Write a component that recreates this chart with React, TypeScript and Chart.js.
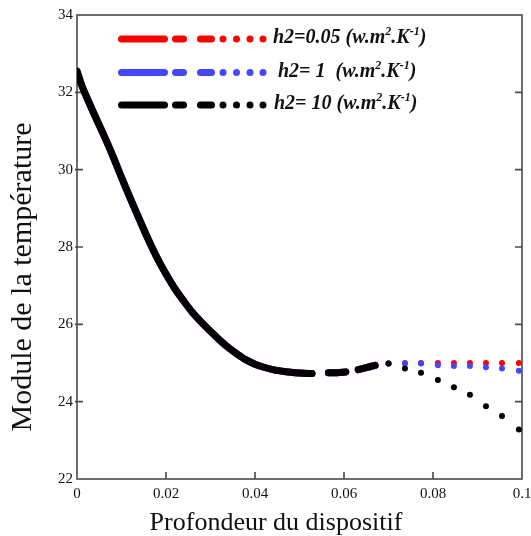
import React, { useEffect, useRef } from 'react';
import { Chart, registerables } from 'chart.js';

Chart.register(...registerables);

// ---- data ----
const depthCurve = [0, 0.001, 0.002, 0.004, 0.006, 0.008, 0.01, 0.012, 0.014, 0.016, 0.018, 0.02, 0.022, 0.024, 0.026, 0.028, 0.03, 0.032, 0.034, 0.036, 0.038, 0.04, 0.042, 0.044, 0.046, 0.048, 0.05, 0.052, 0.0528];
const tempCurve = [32.55, 32.2, 31.92, 31.4, 30.9, 30.37, 29.8, 29.25, 28.72, 28.2, 27.72, 27.3, 26.92, 26.6, 26.3, 26.05, 25.82, 25.6, 25.4, 25.23, 25.08, 24.97, 24.89, 24.83, 24.79, 24.76, 24.74, 24.73, 24.73];

const depthDash1 = [0.0565, 0.0585, 0.0604];
const tempDash1 = [24.75, 24.75, 24.77];
const depthDash2 = [0.0632, 0.065, 0.067];
const tempDash2 = [24.83, 24.88, 24.94];

const depthDots = [0.07, 0.0737, 0.0773, 0.0811, 0.0847, 0.0883, 0.0919, 0.0955, 0.0993];
const tempDotsRed = [24.99, 25.0, 25.0, 25.0, 25.0, 25.0, 25.0, 25.0, 25.0];
const tempDotsBlue = [24.99, 24.99, 24.99, 24.94, 24.92, 24.92, 24.89, 24.86, 24.8];
const tempDotsBlack = [24.99, 24.86, 24.75, 24.56, 24.37, 24.18, 23.88, 23.63, 23.28];

const seriesNames = ['h2=0.05 ', 'h2= 1  ', 'h2= 10 '];
const seriesColors = ['#ff0000', '#4646ff', '#000000'];
const seriesDots = [tempDotsRed, tempDotsBlue, tempDotsBlack];

const xTickLabels = ['0', '0.02', '0.04', '0.06', '0.08', '0.1'];
const yTickLabels = ['22', '24', '26', '28', '30', '32', '34'];
const xTitle = 'Profondeur du dispositif';
const yTitle = 'Module de la température';
const unitParts = [
  { t: '(w.m', sup: false },
  { t: '2', sup: true },
  { t: '.K', sup: false },
  { t: '-1', sup: true },
  { t: ')', sup: false },
];

const SERIF = '"Liberation Serif", "Times New Roman", serif';

const pts = (xs: number[], ys: number[]) => xs.map((x, i) => ({ x, y: ys[i] }));

function buildDatasets() {
  const ds: any[] = [];
  seriesNames.forEach((name, i) => {
    const color = seriesColors[i];
    const order = 2 - i;
    const lineBase = {
      type: 'line',
      borderColor: color,
      backgroundColor: color,
      borderWidth: 7,
      borderCapStyle: 'round',
      borderJoinStyle: 'round',
      pointRadius: 0,
      tension: 0.3,
      fill: false,
      order,
      seriesIndex: i,
    };
    ds.push({ ...lineBase, label: name, data: pts(depthCurve, tempCurve), legendMain: true });
    ds.push({ ...lineBase, label: name + 'd1', data: pts(depthDash1, tempDash1) });
    ds.push({ ...lineBase, label: name + 'd2', data: pts(depthDash2, tempDash2) });
    ds.push({
      type: 'line',
      label: name + 'dots',
      data: pts(depthDots, seriesDots[i]),
      showLine: false,
      pointRadius: 3,
      pointHoverRadius: 3,
      pointBorderWidth: 0,
      pointBackgroundColor: color,
      borderColor: color,
      order,
    });
  });
  return ds;
}

const framePlugin = {
  id: 'frame',
  beforeDatasetsDraw(chart: any) {
    const { ctx, chartArea, scales } = chart;
    const { left, right, top, bottom } = chartArea;
    ctx.save();
    ctx.strokeStyle = '#4a4a4a';
    ctx.lineWidth = 1.6;
    ctx.strokeRect(left, top, right - left, bottom - top);
    ctx.lineWidth = 1.6;
    ctx.beginPath();
    scales.x.ticks.forEach((t: any) => {
      const px = scales.x.getPixelForValue(t.value);
      if (px <= left + 1 || px >= right - 1) return;
      ctx.moveTo(px, bottom);
      ctx.lineTo(px, bottom - 7);
    });
    scales.y.ticks.forEach((t: any) => {
      const py = scales.y.getPixelForValue(t.value);
      if (py <= top + 1 || py >= bottom - 1) return;
      ctx.moveTo(left - 2, py);
      ctx.lineTo(left + 6, py);
      ctx.moveTo(right, py);
      ctx.lineTo(right - 7, py);
    });
    ctx.stroke();
    ctx.restore();
  },
  afterDraw(chart: any) {
    const { ctx } = chart;
    ctx.save();
    // axis titles
    ctx.fillStyle = '#111';
    ctx.textAlign = 'center';
    ctx.textBaseline = 'middle';
    ctx.font = `26px ${SERIF}`;
    ctx.fillText(xTitle, 276, 523);
    ctx.save();
    ctx.translate(23, 277);
    ctx.rotate(-Math.PI / 2);
    ctx.font = `30px ${SERIF}`;
    ctx.fillText(yTitle, 0, 0);
    ctx.restore();

    // legend
    const rows = [39, 72.5, 105];
    const textX = [273, 278, 274];
    chart.data.datasets.forEach((d: any) => {
      if (!d.legendMain) return;
      const i = d.seriesIndex;
      const y = rows[i];
      ctx.strokeStyle = d.borderColor;
      ctx.fillStyle = d.borderColor;
      ctx.lineWidth = 7;
      ctx.lineCap = 'round';
      ctx.beginPath();
      ctx.moveTo(121.5, y); ctx.lineTo(164.5, y);
      ctx.moveTo(175.5, y); ctx.lineTo(183.5, y);
      ctx.moveTo(200.5, y); ctx.lineTo(211.5, y);
      ctx.stroke();
      [223, 236.5, 250, 263].forEach((cx) => {
        ctx.beginPath();
        ctx.arc(cx, y, 3.5, 0, Math.PI * 2);
        ctx.fill();
      });
      // text
      ctx.fillStyle = '#111';
      ctx.textAlign = 'left';
      ctx.textBaseline = 'alphabetic';
      const base = y + 4;
      let x = textX[i];
      ctx.font = `italic bold 20px ${SERIF}`;
      ctx.fillText(d.label, x, base);
      x += ctx.measureText(d.label).width;
      unitParts.forEach((p) => {
        ctx.font = p.sup ? `italic bold 12px ${SERIF}` : `italic bold 20px ${SERIF}`;
        ctx.fillText(p.t, x, p.sup ? base - 8 : base);
        x += ctx.measureText(p.t).width;
      });
    });
    ctx.restore();
  },
};

export default function App() {
  const ref = useRef<HTMLCanvasElement>(null);
  useEffect(() => {
    if (!ref.current) return;
    const chart = new Chart(ref.current, {
      type: 'line',
      data: { datasets: buildDatasets() },
      options: {
        animation: false,
        responsive: true,
        maintainAspectRatio: false,
        layout: { padding: { top: 15, right: 23, left: 0, bottom: 0 } },
        plugins: { legend: { display: false }, tooltip: { enabled: false } },
        events: [],
        scales: {
          x: {
            type: 'linear',
            min: 0,
            max: 0.1,
            grid: { display: false, drawTicks: false },
            border: { display: false },
            afterFit: (s: any) => { s.height = 57; },
            afterBuildTicks: (s: any) => {
              s.ticks = xTickLabels.map((l) => ({ value: parseFloat(l) }));
            },
            ticks: {
              maxRotation: 0,
              autoSkip: false,
              padding: 6,
              color: '#111',
              font: { family: SERIF, size: 15 },
              callback: (_v: any, i: number) => xTickLabels[i],
            },
          },
          y: {
            type: 'linear',
            min: 22,
            max: 34,
            grid: { display: false, drawTicks: false },
            border: { display: false },
            afterFit: (s: any) => { s.width = 77; },
            afterBuildTicks: (s: any) => {
              s.ticks = yTickLabels.map((l) => ({ value: parseFloat(l) }));
            },
            ticks: {
              autoSkip: false,
              padding: 4,
              color: '#111',
              font: { family: SERIF, size: 15 },
              callback: (_v: any, i: number) => yTickLabels[i],
            },
          },
        },
      },
      plugins: [framePlugin],
    } as any);
    return () => chart.destroy();
  }, []);
  return (
    <div style={{ position: 'fixed', left: 0, top: 0, width: 531, height: 536, overflow: 'hidden', background: '#fff' }}>
      <div style={{ position: 'relative', width: 545, height: 536 }}>
        <canvas ref={ref} />
      </div>
    </div>
  );
}
